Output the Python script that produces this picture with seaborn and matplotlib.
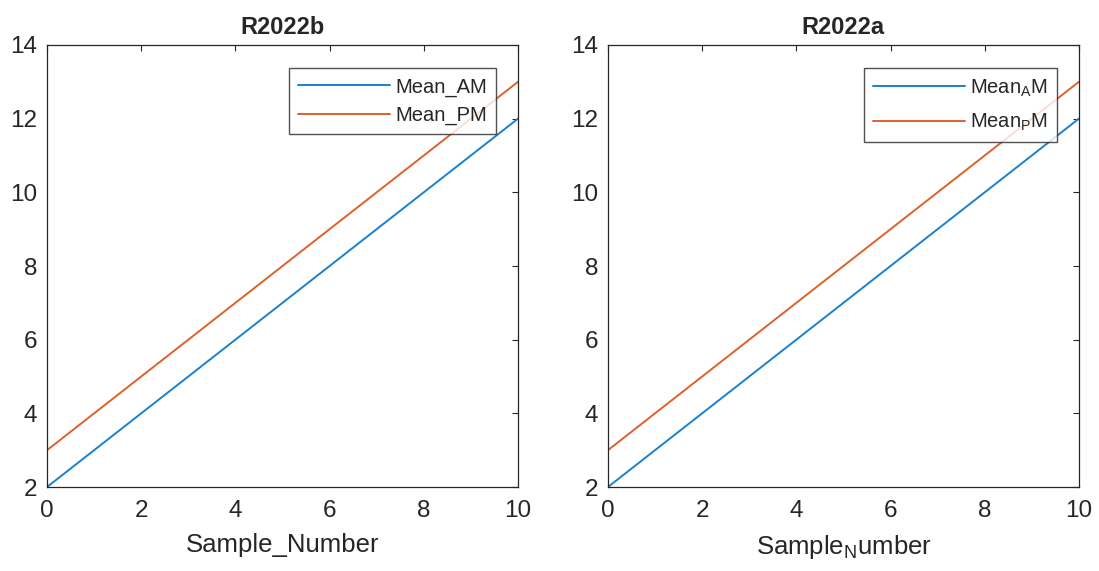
import pandas as pd
import seaborn as sns
import matplotlib.pyplot as plt

BLUE = '#1a80cf'
ORANGE = '#e0602a'

sample_number = [0, 1, 2, 3, 4, 5, 6, 7, 8, 9, 10]
mean_am = [2, 3, 4, 5, 6, 7, 8, 9, 10, 11, 12]
mean_pm = [3, 4, 5, 6, 7, 8, 9, 10, 11, 12, 13]
x_ticks = [0, 2, 4, 6, 8, 10]
y_ticks = [2, 4, 6, 8, 10, 12, 14]

sns.set_style('white')
plt.rcParams['font.family'] = ['Liberation Sans', 'DejaVu Sans']
plt.rcParams['mathtext.default'] = 'regular'

df = pd.DataFrame({'x': sample_number, 'am': mean_am, 'pm': mean_pm})

fig = plt.figure(figsize=(10.99, 5.71), dpi=100)
ax_left = fig.add_axes([0.0428, 0.1471, 0.4285, 0.7741])
ax_right = fig.add_axes([0.5532, 0.1471, 0.4285, 0.7741])

panels = [
    (ax_left, 'R2022b', 'Mean_AM', 'Mean_PM', 'Sample_Number', 0.45),
    (ax_right, 'R2022a', 'Mean$_A$M', 'Mean$_P$M', 'Sample$_N$umber', 0.65),
]

for ax, title, lab_am, lab_pm, xlab, spacing in panels:
    sns.lineplot(data=df, x='x', y='am', color=BLUE, linewidth=1.4, label=lab_am, ax=ax)
    sns.lineplot(data=df, x='x', y='pm', color=ORANGE, linewidth=1.4, label=lab_pm, ax=ax)
    ax.set_xlim(0, 10)
    ax.set_ylim(2, 14)
    ax.set_xticks(x_ticks)
    ax.set_yticks(y_ticks)
    ax.tick_params(axis='both', direction='in', length=4, width=0.8, labelsize=17.5,
                   colors='#262626', top=True, right=True)
    ax.tick_params(axis='x', pad=9)
    ax.tick_params(axis='y', pad=7)
    for side in ax.spines.values():
        side.set_visible(True)
        side.set_color('#262626')
        side.set_linewidth(0.9)
    ax.set_title(title, fontsize=17, fontweight='bold', pad=8)
    ax.set_xlabel(xlab, fontsize=18.5, color='#262626', labelpad=8)
    ax.set_ylabel('')
    leg = ax.legend(loc='upper right', fontsize=14.5, frameon=True, fancybox=False,
                    edgecolor='#262626', handlelength=4.6, borderpad=0.45,
                    labelspacing=spacing, handletextpad=0.25,
                    bbox_to_anchor=(0.975, 0.97))
    leg.get_frame().set_linewidth(1.0)
    for t in leg.get_texts():
        t.set_color('#262626')

fig.savefig('out.png', dpi=100)
